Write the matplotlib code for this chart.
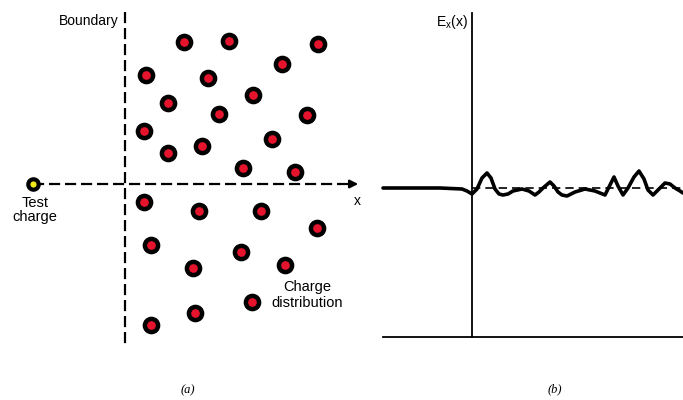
import matplotlib
matplotlib.use('Agg')
import matplotlib.pyplot as plt

plt.rcParams['font.family'] = ['Liberation Sans', 'DejaVu Sans']

# Positions of the charges in panel (a) (pixel units of the picture)
charge_x = [184, 229, 318, 282, 146, 208, 253, 168, 219, 307, 144, 272, 168, 202, 243, 295,
            144, 199, 261, 317, 151, 241, 193, 285, 252, 195, 151]
charge_y = [42, 41, 44, 64, 75, 78, 95, 103, 114, 115, 131, 139, 153, 146, 168, 172,
            202, 211, 211, 228, 245, 252, 268, 265, 302, 313, 325]
test_charge = (33, 184)

# Field trace E_x(x) in panel (b)
field_x = [383, 440, 462, 467, 472, 477, 482, 487, 491, 495, 499, 503, 508, 513, 522, 529, 535,
           539, 543, 550, 554, 558, 562, 567, 575, 585, 595, 600, 605, 609, 614, 618, 623,
           628, 634, 639, 644, 648, 653, 659, 665, 670, 675, 680, 683]
field_y = [188, 188, 189, 191, 194, 189, 178, 173, 178, 189, 194, 195, 194, 191, 189, 191, 195,
           192, 188, 182, 186, 192, 195, 196, 192, 189, 191, 193, 195, 187, 177, 186, 195,
           188, 177, 171, 179, 190, 195, 189, 183, 184, 188, 191, 193]
baseline_y = 188

fig = plt.figure(figsize=(6.83, 4.0), dpi=100)
ax = fig.add_axes([0, 0, 1, 1])
ax.set_xlim(0, 683)
ax.set_ylim(400, 0)
ax.axis('off')

# --- panel (a) ---
ax.plot([125, 125], [12, 348], color='black', lw=1.6, dashes=(5, 2.2))
ax.plot([test_charge[0], 350], [184, 184], color='black', lw=1.6, dashes=(5, 2.2))
ax.annotate('', xy=(361, 184), xytext=(347, 184),
            arrowprops=dict(arrowstyle='-|>', color='black', lw=1.6,
                            mutation_scale=12))
ax.plot(charge_x, charge_y, 'o', ms=9.5, mfc='#e5132b', mec='black', mew=3.2)
ax.plot(*test_charge, 'o', ms=7.5, mfc='#f0e81a', mec='black', mew=3.0)

ax.text(119, 21, 'Boundary', ha='right', va='center', fontsize=10)
ax.text(35, 210, 'Test\ncharge', ha='center', va='center', fontsize=10.5, linespacing=1.0)
ax.text(307, 295, 'Charge\ndistribution', ha='center', va='center', fontsize=10.5,
        linespacing=1.1)
ax.text(357, 201, 'x', ha='center', va='center', fontsize=10)
ax.text(188, 390, '(a)', ha='center', va='center', fontsize=9,
        family='Liberation Serif', style='italic')

# --- panel (b) ---
ax.plot([472, 472], [13, 337], color='black', lw=1.3)
ax.plot([383, 683], [337, 337], color='black', lw=1.3)
ax.plot([472, 683], [baseline_y, baseline_y], color='black', lw=1.2, dashes=(5, 3))
ax.plot(field_x, field_y, color='black', lw=2.6, solid_joinstyle='round',
        solid_capstyle='round')
ax.text(468, 22, r'E$_\mathregular{x}$(x)', ha='right', va='center', fontsize=10)
ax.text(555, 389, '(b)', ha='center', va='center', fontsize=9,
        family='Liberation Serif', style='italic')

fig.savefig('out.png', dpi=100)
